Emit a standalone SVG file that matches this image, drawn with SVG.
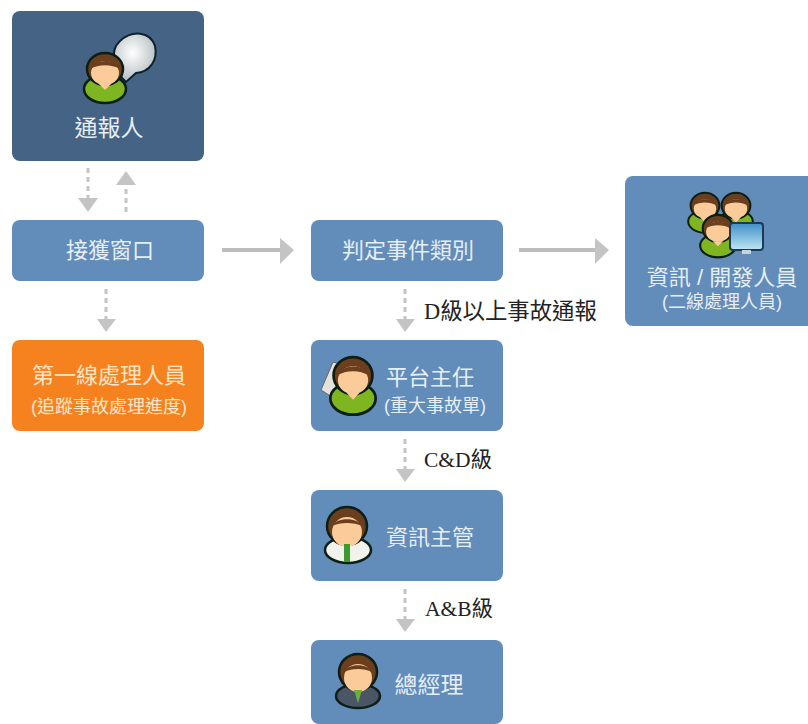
<svg xmlns="http://www.w3.org/2000/svg" width="808" height="724" viewBox="0 0 808 724">
<style>
.box{fill:#628cba}
.t{font-family:"Liberation Sans","Noto Sans CJK TC",sans-serif;fill:#e6eef6;text-anchor:middle}
.l{font-size:22px}
.s{font-size:18px}
.o{fill:#fde6c8}
.k{font-family:"Liberation Serif","Noto Sans CJK TC",serif;font-size:21.5px;fill:#222}
.dash{stroke:#c4c4c4;stroke-width:3;stroke-dasharray:5 4;fill:none}
.solid{stroke:#bdbdbd;stroke-width:4;fill:none}
.head{fill:#c4c4c4}
.hair{fill:#6b3f1d}
.skin{fill:#fbcb9a}
.ol{stroke:#0c1f16;stroke-width:2.5}
</style>
<defs>
<radialGradient id="bub" cx="0.45" cy="0.4" r="0.65"><stop offset="0" stop-color="#fff"/><stop offset="1" stop-color="#aeb8bc"/></radialGradient>
<linearGradient id="scr" x1="0" y1="0" x2="0" y2="1"><stop offset="0" stop-color="#3f8fc4"/><stop offset="1" stop-color="#bfe6f5"/></linearGradient>
<g id="person">
<ellipse cx="0" cy="17" rx="21" ry="14" fill="#7fb520" class="ol"/>
<ellipse cx="0" cy="-3" rx="18" ry="16" class="hair ol"/>
<ellipse cx="0" cy="1" rx="14" ry="12" class="skin"/>
<path d="M-15,-3C-10,-13 10,-14 15,-3C6,-8 -6,-8 -15,-3Z" class="hair"/>
<path d="M-6,12L0,18L6,12Z" class="skin"/>
</g>
</defs>
<rect width="808" height="724" fill="#fff"/>
<g id="connectors">
<path class="dash" d="M88,168V198"/><path class="head" d="M78,198H98L88,212Z"/>
<path class="dash" d="M126,212V184"/><path class="head" d="M116,185H136L126,171Z"/>
<path class="dash" d="M106,289V320"/><path class="head" d="M97,319H116L106,332Z"/>
<path class="solid" d="M222,250H282"/><path class="head" d="M280,238L294,250L280,264Z"/>
<path class="solid" d="M519,250H597"/><path class="head" d="M595,238L609,250L595,264Z"/>
<path class="dash" d="M405,289V320"/><path class="head" d="M396,319H415L405,332Z"/>
<path class="dash" d="M405,439V470"/><path class="head" d="M396,469H415L405,482Z"/>
<path class="dash" d="M405,589V620"/><path class="head" d="M396,619H415L405,632Z"/>
</g>
<text class="k" x="424" y="319" style="font-size:22.4px">D級以上事故通報</text>
<text class="k" x="424" y="467">C&amp;D級</text>
<text class="k" x="425" y="616">A&amp;B級</text>
<g id="reporter">
<rect x="12" y="11" width="192" height="150" rx="8" fill="#456384"/>
<path d="M126,82C115,72 108,52 120,41C132,30 150,31 155,46C158,60 150,72 136,73L126,82Z" fill="url(#bub)" stroke="#10202c" stroke-width="2"/>
<use href="#person" transform="translate(105,72)"/>
<text class="t" x="109" y="136" font-size="23">通報人</text>
</g>
<g id="contact">
<rect class="box" x="12" y="220" width="192" height="61" rx="8"/>
<text class="t l" x="110" y="258">接獲窗口</text>
</g>
<g id="first-line">
<rect x="12" y="340" width="192" height="91" rx="8" fill="#f5821e"/>
<text class="t o" x="109" y="383" font-size="22">第一線處理人員</text>
<text class="t s o" x="109" y="413">(追蹤事故處理進度)</text>
</g>
<g id="classify">
<rect class="box" x="311" y="220" width="192" height="61" rx="8"/>
<text class="t l" x="408" y="258">判定事件類別</text>
</g>
<g id="platform">
<rect class="box" x="311" y="340" width="192" height="91" rx="8"/>
<path d="M321,390L333,362L352,368L340,402Z" fill="#e4e2da" stroke="#666" stroke-width="1"/>
<use href="#person" transform="translate(353,379) scale(1.08,1.15)"/>
<text class="t l" x="430" y="385">平台主任</text>
<text class="t s" x="435" y="412">(重大事故單)</text>
</g>
<g id="it-manager">
<rect class="box" x="311" y="490" width="192" height="91" rx="8"/>
<ellipse cx="348" cy="550" rx="23" ry="13" fill="#f2f2ec" class="ol"/>
<ellipse cx="347" cy="526" rx="20" ry="19" class="hair ol"/>
<ellipse cx="347" cy="532" rx="15" ry="15" class="skin"/>
<path d="M332,526C336,517 358,517 362,526C354,522 340,522 332,526Z" class="hair"/>
<rect x="344" y="544" width="6" height="18" fill="#3d9a2c"/>
<text class="t l" x="430" y="545">資訊主管</text>
</g>
<g id="ceo">
<rect class="box" x="311" y="640" width="192" height="84" rx="8"/>
<ellipse cx="358" cy="696" rx="22" ry="12" fill="#4a5566" class="ol"/>
<ellipse cx="358" cy="672" rx="19" ry="18" class="hair ol"/>
<ellipse cx="358" cy="678" rx="14" ry="14" class="skin"/>
<path d="M344,672C348,663 368,663 372,672C364,668 352,668 344,672Z" class="hair"/>
<path d="M354,690H362L358,703Z" fill="#6fae3a"/>
<text class="t" x="429" y="693" font-size="23">總經理</text>
</g>
<g id="it-dev">
<rect class="box" x="625" y="176" width="190" height="150" rx="8"/>
<use href="#person" transform="translate(705,208) scale(0.8)"/>
<use href="#person" transform="translate(736,208) scale(0.8)"/>
<use href="#person" transform="translate(718,231) scale(0.85)"/>
<rect x="730" y="223" width="33" height="27" rx="3" fill="url(#scr)" stroke="#1c3a55" stroke-width="2"/>
<rect x="742" y="250" width="9" height="4" fill="#c8d4dc"/>
<text class="t" x="722" y="285" font-size="22">資訊 / 開發人員</text>
<text class="t s" x="722" y="308">(二線處理人員)</text>
</g>
</svg>
